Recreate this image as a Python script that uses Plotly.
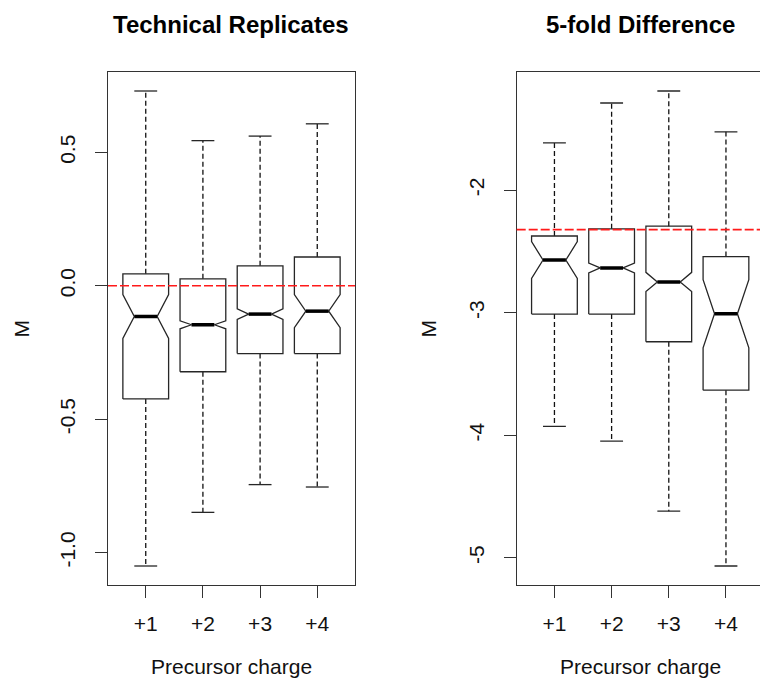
import math
import plotly.graph_objects as go

# ---- data -------------------------------------------------------------
charges = [1, 2, 3, 4]
charge_labels = ["+1", "+2", "+3", "+4"]

# Technical replicates: box statistics per precursor charge
tech_upper = [0.730, 0.544, 0.561, 0.607]
tech_q3 = [0.045, 0.026, 0.075, 0.108]
tech_median = [-0.115, -0.146, -0.106, -0.095]
tech_q1 = [-0.424, -0.322, -0.254, -0.254]
tech_lower = [-1.050, -0.849, -0.745, -0.754]
tech_notch = [0.082, 0.015, 0.020, 0.062]
tech_ticks = [-1.0, -0.5, 0.0, 0.5]
tech_ticklabels = ["-1.0", "-0.5", "0.0", "0.5"]
tech_expected = 0.0

# 5-fold difference: box statistics per precursor charge
fold_upper = [-1.614, -1.289, -1.191, -1.524]
fold_q3 = [-2.374, -2.316, -2.294, -2.542]
fold_median = [-2.570, -2.635, -2.749, -3.008]
fold_q1 = [-3.011, -3.011, -3.237, -3.632]
fold_lower = [-3.928, -4.048, -4.620, -5.067]
fold_notch = [0.150, 0.040, 0.078, 0.278]
fold_ticks = [-5, -4, -3, -2]
fold_ticklabels = ["-5", "-4", "-3", "-2"]
fold_expected = -math.log2(5)

# ---- styling ------------------------------------------------------------
W, H = 760, 679
INK = "#262626"
FONT = "Liberation Sans, Arial, sans-serif"
BOX_WEX = 0.8        # box width in x units
NOTCH_FRAC = 0.5     # notch narrows the box to this fraction
STAPLE_WEX = 0.5     # whisker cap width relative to the box


def px_x(x):
    return x / W


def px_y(y):
    return 1 - y / H


plot_top, plot_bottom = 72, 585
left_px = (108, 355)
right_px = (516.7, 760)
unit_px = (left_px[1] - left_px[0]) / 4.32   # pixels per x unit

fig = go.Figure()


def add_panel(xa, ya, upper, q3, med, q1, lower, notch):
    half = BOX_WEX / 2
    cap = half * STAPLE_WEX
    mid = half * NOTCH_FRAC
    bx, by = [], []
    wx, wy, cx, cy, mx, my = [], [], [], [], [], []
    for c, up, hi, m, lo, low, n in zip(charges, upper, q3, med, q1, lower, notch):
        # notched box outline
        bx += [c - half, c - half, c - mid, c - half, c - half,
               c + half, c + half, c + mid, c + half, c + half, c - half, None]
        by += [lo, m - n, m, m + n, hi, hi, m + n, m, m - n, lo, lo, None]
        # dashed whiskers
        wx += [c, c, None, c, c, None]
        wy += [hi, up, None, lo, low, None]
        # whisker caps
        cx += [c - cap, c + cap, None, c - cap, c + cap, None]
        cy += [up, up, None, low, low, None]
        # median bar
        mx += [c - mid, c + mid, None]
        my += [m, m, None]
    fig.add_trace(go.Scatter(x=wx, y=wy, mode="lines", xaxis=xa, yaxis=ya,
                             line=dict(color="#111", width=1.3, dash="5px,3px"),
                             showlegend=False, hoverinfo="skip"))
    fig.add_trace(go.Scatter(x=cx, y=cy, mode="lines", xaxis=xa, yaxis=ya,
                             line=dict(color=INK, width=1.3),
                             showlegend=False, hoverinfo="skip"))
    fig.add_trace(go.Scatter(x=bx, y=by, mode="lines", xaxis=xa, yaxis=ya,
                             line=dict(color=INK, width=1.3),
                             showlegend=False, hoverinfo="skip"))
    fig.add_trace(go.Scatter(x=mx, y=my, mode="lines", xaxis=xa, yaxis=ya,
                             line=dict(color="black", width=3.5),
                             showlegend=False, hoverinfo="skip"))


add_panel("x", "y", tech_upper, tech_q3, tech_median, tech_q1, tech_lower, tech_notch)
add_panel("x2", "y2", fold_upper, fold_q3, fold_median, fold_q1, fold_lower, fold_notch)


def y_range(lower, upper):
    lo, hi = min(lower), max(upper)
    pad = 0.04 * (hi - lo)
    return [lo - pad, hi + pad]


x_lo = 0.5 - 0.04 * 4
x_hi_left = 4.5 + 0.04 * 4
x_hi_right = x_lo + (right_px[1] - right_px[0]) / unit_px

axis_common = dict(
    showgrid=False, zeroline=False, showline=True, linecolor="#333", linewidth=1.4,
    ticks="outside", ticklen=12, tickcolor="#333", tickwidth=1.3,
    tickfont=dict(family=FONT, size=21, color="#111"),
)
ydom = [px_y(plot_bottom), px_y(plot_top)]

fig.update_layout(
    width=W, height=H,
    margin=dict(l=0, r=0, t=0, b=0),
    paper_bgcolor="white", plot_bgcolor="white",
    xaxis=dict(domain=[px_x(left_px[0]), px_x(left_px[1])], range=[x_lo, x_hi_left],
               tickvals=charges, ticktext=charge_labels, mirror=True,
               ticklabelstandoff=8, anchor="y", **axis_common),
    yaxis=dict(domain=ydom, range=y_range(tech_lower, tech_upper),
               tickvals=tech_ticks, ticktext=tech_ticklabels, tickangle=-90,
               mirror=True, ticklabelstandoff=11, anchor="x", **axis_common),
    xaxis2=dict(domain=[px_x(right_px[0]), 1.0], range=[x_lo, x_hi_right],
                tickvals=charges, ticktext=charge_labels, mirror=True,
                ticklabelstandoff=8, anchor="y2", **axis_common),
    yaxis2=dict(domain=ydom, range=y_range(fold_lower, fold_upper),
                tickvals=fold_ticks, ticktext=fold_ticklabels, tickangle=-90,
                mirror=False, ticklabelstandoff=11, anchor="x2", **axis_common),
)

# expected log-ratio reference lines
for xa, ya, level in [("x", "y", tech_expected), ("x2", "y2", fold_expected)]:
    fig.add_shape(type="line", xref=f"{xa} domain", yref=ya, x0=0, x1=1,
                  y0=level, y1=level, layer="above",
                  line=dict(color="#ff1a1a", width=1.6, dash="9px,3px"))

# titles and axis labels
left_center = (left_px[0] + left_px[0] + 4.32 * unit_px) / 2
right_center = right_px[0] + 4.32 * unit_px / 2
mid_y = (plot_top + plot_bottom) / 2
for cx, title, mx in [(left_center, "Technical Replicates", 21),
                      (right_center, "5-fold Difference", 428)]:
    fig.add_annotation(x=px_x(cx), y=px_y(25), xref="paper", yref="paper",
                       text=f"<b>{title}</b>", showarrow=False,
                       xanchor="center", yanchor="middle",
                       font=dict(family=FONT, size=24, color="black"))
    fig.add_annotation(x=px_x(cx), y=px_y(666), xref="paper", yref="paper",
                       text="Precursor charge", showarrow=False,
                       xanchor="center", yanchor="middle",
                       font=dict(family=FONT, size=21, color="#111"))
    fig.add_annotation(x=px_x(mx), y=px_y(mid_y), xref="paper", yref="paper",
                       text="M", textangle=-90, showarrow=False,
                       xanchor="center", yanchor="middle",
                       font=dict(family=FONT, size=21, color="#111"))

fig.write_html("out.html")
